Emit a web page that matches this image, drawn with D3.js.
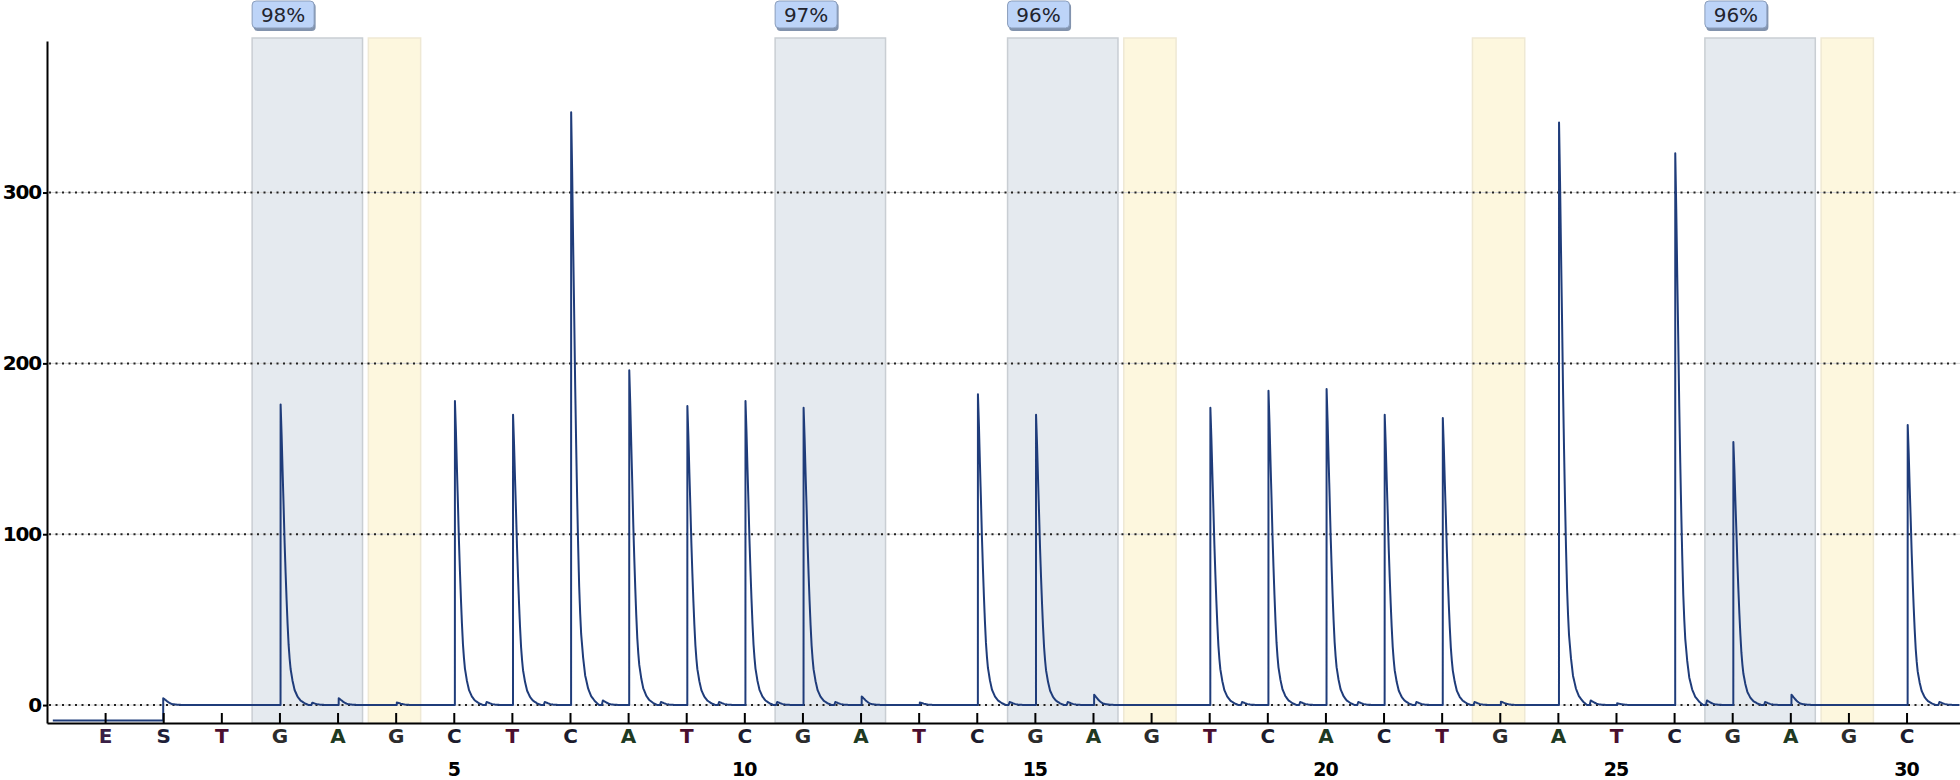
<!DOCTYPE html>
<html>
<head>
<meta charset="utf-8">
<script src="https://cdn.jsdelivr.net/npm/d3@7"></script>
<style>
  body { margin: 0; background: #fff; }
  svg { display: block; }
</style>
</head>
<body>
<svg id="pyrogram"></svg>
<script>
// dispensation order: E, S, then 1..30 (position -1 = E, 0 = S)
const dispensations = ['E', 'S', 'T', 'G', 'A', 'G', 'C', 'T', 'C', 'A', 'T', 'C', 'G', 'A', 'T', 'C',
  'G', 'A', 'G', 'T', 'C', 'A', 'C', 'T', 'G', 'A', 'T', 'C', 'G', 'A', 'G', 'C'];
const peakHeights = [0, 4, 0, 176, 4, 1.5, 178, 170, 347, 196, 175, 178, 174, 5, 1.5, 182,
  170, 6, 0, 174, 184, 185, 170, 168, 2, 341, 1, 323, 154, 6, 0, 164];
// small trailing bumps after each dispensation
const echoHeights = [0, 0, 0, 1.5, 0, 0, 2, 2, 3, 2, 2, 2, 2, 0, 0, 2,
  2, 0, 0, 2, 2, 2, 2, 2, 0, 3, 0, 3, 2, 0, 0, 2];
const startLevel = -9;

// peak decay profile (offset in dispensations, fraction of height)
const shapeOffset = [0, 0.017, 0.034, 0.052, 0.069, 0.086, 0.103, 0.12, 0.138, 0.155, 0.172, 0.206, 0.241, 0.292, 0.344, 0.413, 0.482];
const shapeFrac = [1, 0.9, 0.78, 0.66, 0.54, 0.44, 0.35, 0.27, 0.2, 0.155, 0.12, 0.08, 0.05, 0.028, 0.015, 0.006, 0];

// variable positions (CpG) and bisulfite controls
const siteStart = [2, 11, 15, 27];
const siteEnd = [3, 12, 16, 28];
const siteLabels = ['98%', '97%', '96%', '96%'];
const controlPos = [4, 17, 23, 29];

const yTicks = [0, 100, 200, 300];
const numberTicks = [5, 10, 15, 20, 25, 30];

const W = 1960, H = 780;
const plotLeft = 47, axisY = 723, plotTop = 41;

const svg = d3.select('#pyrogram').attr('width', W).attr('height', H);

const positions = dispensations.map((d, i) => i - 1);

const x = d3.scaleLinear().domain([-2, 30.92]).range([plotLeft, W]);
const y = d3.scaleLinear().domain([-10.5, 388.7]).range([axisY, plotTop]);

// shaded regions
svg.append('g')
  .selectAll('rect')
  .data(siteStart.map((s, i) => ({ s, e: siteEnd[i] })))
  .join('rect')
  .attr('x', d => x(d.s - 0.47))
  .attr('y', plotTop - 3)
  .attr('width', d => x(d.e + 0.43) - x(d.s - 0.47))
  .attr('height', axisY - plotTop + 3)
  .attr('fill', '#e5eaef')
  .attr('stroke', '#c9ced3')
  .attr('stroke-width', 1.5);

svg.append('g')
  .selectAll('rect')
  .data(controlPos)
  .join('rect')
  .attr('x', d => x(d - 0.47))
  .attr('y', plotTop - 3)
  .attr('width', d => x(d + 0.43) - x(d - 0.47))
  .attr('height', axisY - plotTop + 3)
  .attr('fill', '#fdf7de')
  .attr('stroke', '#efe9d4')
  .attr('stroke-width', 1.5);

// gridlines
const grid = svg.append('g');
grid.selectAll('line.base')
  .data(yTicks)
  .join('line')
  .attr('class', 'base')
  .attr('x1', plotLeft).attr('x2', W)
  .attr('y1', d => y(d)).attr('y2', d => y(d))
  .attr('stroke', '#d6d6d6')
  .attr('stroke-width', 1);
grid.selectAll('line.dot')
  .data(yTicks)
  .join('line')
  .attr('class', 'dot')
  .attr('x1', plotLeft + 2).attr('x2', W)
  .attr('y1', d => y(d)).attr('y2', d => y(d))
  .attr('stroke', '#222')
  .attr('stroke-width', 2)
  .attr('stroke-dasharray', '2,4.5');

// trace
function shape(d) {
  if (d < -1e-7 || d >= shapeOffset[shapeOffset.length - 1]) return 0;
  d = Math.max(0, d);
  const k = Math.min(d3.bisectRight(shapeOffset, d) - 1, shapeOffset.length - 2);
  const t = (d - shapeOffset[k]) / (shapeOffset[k + 1] - shapeOffset[k]);
  return shapeFrac[k] + t * (shapeFrac[k + 1] - shapeFrac[k]);
}

const riseLag = 0.02;
function signal(t) {
  let v = t < 0 ? startLevel : 0;
  positions.forEach((p, i) => {
    const lag = i < 2 ? 0 : riseLag;
    v += peakHeights[i] * shape(t - p - lag);
    v += echoHeights[i] * shape(t - p - 0.55);
  });
  return v;
}

const tStart = -1.9, tEnd = 30.92;
let samples = d3.range(tStart, tEnd, 1 / 58);
positions.forEach((p, i) => {
  const lag = i < 2 ? 0 : riseLag;
  samples.push(p - 0.0005, p, p + lag - 0.001);
  shapeOffset.forEach(o => samples.push(p + lag + o));
});
samples = samples.filter(t => t >= tStart && t <= tEnd).sort((a, b) => a - b);

svg.append('clipPath').attr('id', 'plotClip')
  .append('rect').attr('x', plotLeft).attr('y', 0).attr('width', W - plotLeft).attr('height', axisY);

svg.append('path')
  .datum(samples.map(t => [t, signal(t)]))
  .attr('clip-path', 'url(#plotClip)')
  .attr('fill', 'none')
  .attr('stroke', '#1f3c7a')
  .attr('stroke-width', 2)
  .attr('stroke-linejoin', 'round')
  .attr('d', d3.line().x(d => x(d[0])).y(d => y(d[1])));

// y axis
const yAxis = svg.append('g')
  .attr('transform', `translate(${plotLeft},0)`)
  .call(d3.axisLeft(y).tickValues(yTicks).tickSize(4).tickSizeOuter(0).tickPadding(2));
yAxis.select('.domain').attr('stroke', '#000').attr('stroke-width', 2);
yAxis.selectAll('.tick line').attr('stroke', '#000').attr('stroke-width', 2);
yAxis.selectAll('.tick text')
  .attr('font-family', '"DejaVu Sans", Verdana, sans-serif')
  .attr('font-weight', 'bold')
  .attr('font-size', 20)
  .attr('letter-spacing', -1.2)
  .attr('fill', '#000');

// x axis with dispensation letters
const baseColor = { E: '#3a1f46', S: '#1f1f3a', T: '#4b0f2f', A: '#1e3a22', G: '#2c2c2c', C: '#1c1c2e' };
const xAxis = svg.append('g')
  .attr('transform', `translate(0,${axisY})`)
  .call(d3.axisBottom(x).tickValues(positions).tickSize(-10).tickSizeOuter(0).tickPadding(6)
    .tickFormat(d => dispensations[d + 1]));
xAxis.select('.domain').attr('stroke', '#000').attr('stroke-width', 2);
xAxis.selectAll('.tick line').attr('stroke', '#000').attr('stroke-width', 2);
xAxis.selectAll('.tick text')
  .attr('font-family', '"DejaVu Sans", Verdana, sans-serif')
  .attr('font-weight', 'bold')
  .attr('font-size', 20)
  .attr('fill', d => baseColor[dispensations[d + 1]]);

// dispensation numbers
svg.append('g')
  .selectAll('text')
  .data(numberTicks)
  .join('text')
  .attr('x', d => x(d))
  .attr('y', 776)
  .attr('text-anchor', 'middle')
  .attr('font-family', '"DejaVu Sans", Verdana, sans-serif')
  .attr('font-weight', 'bold')
  .attr('font-size', 19)
  .attr('letter-spacing', -1)
  .attr('fill', '#000')
  .text(d => d);

// methylation labels
const lab = svg.append('g')
  .selectAll('g')
  .data(siteStart.map((s, i) => ({ s, label: siteLabels[i] })))
  .join('g')
  .attr('transform', d => `translate(${x(d.s - 0.47)},0)`);
lab.append('rect')
  .attr('x', 1.5).attr('y', 3).attr('width', 62).attr('height', 28).attr('rx', 4)
  .attr('fill', '#8293ad');
lab.append('rect')
  .attr('x', 0).attr('y', 1).attr('width', 62).attr('height', 27).attr('rx', 4)
  .attr('fill', '#bdd4f8')
  .attr('stroke', '#8a9dbb')
  .attr('stroke-width', 1);
lab.append('text')
  .attr('x', 31).attr('y', 22)
  .attr('text-anchor', 'middle')
  .attr('font-family', '"DejaVu Sans", Verdana, sans-serif')
  .attr('font-size', 20)
  .attr('fill', '#22242e')
  .text(d => d.label);
</script>
</body>
</html>
